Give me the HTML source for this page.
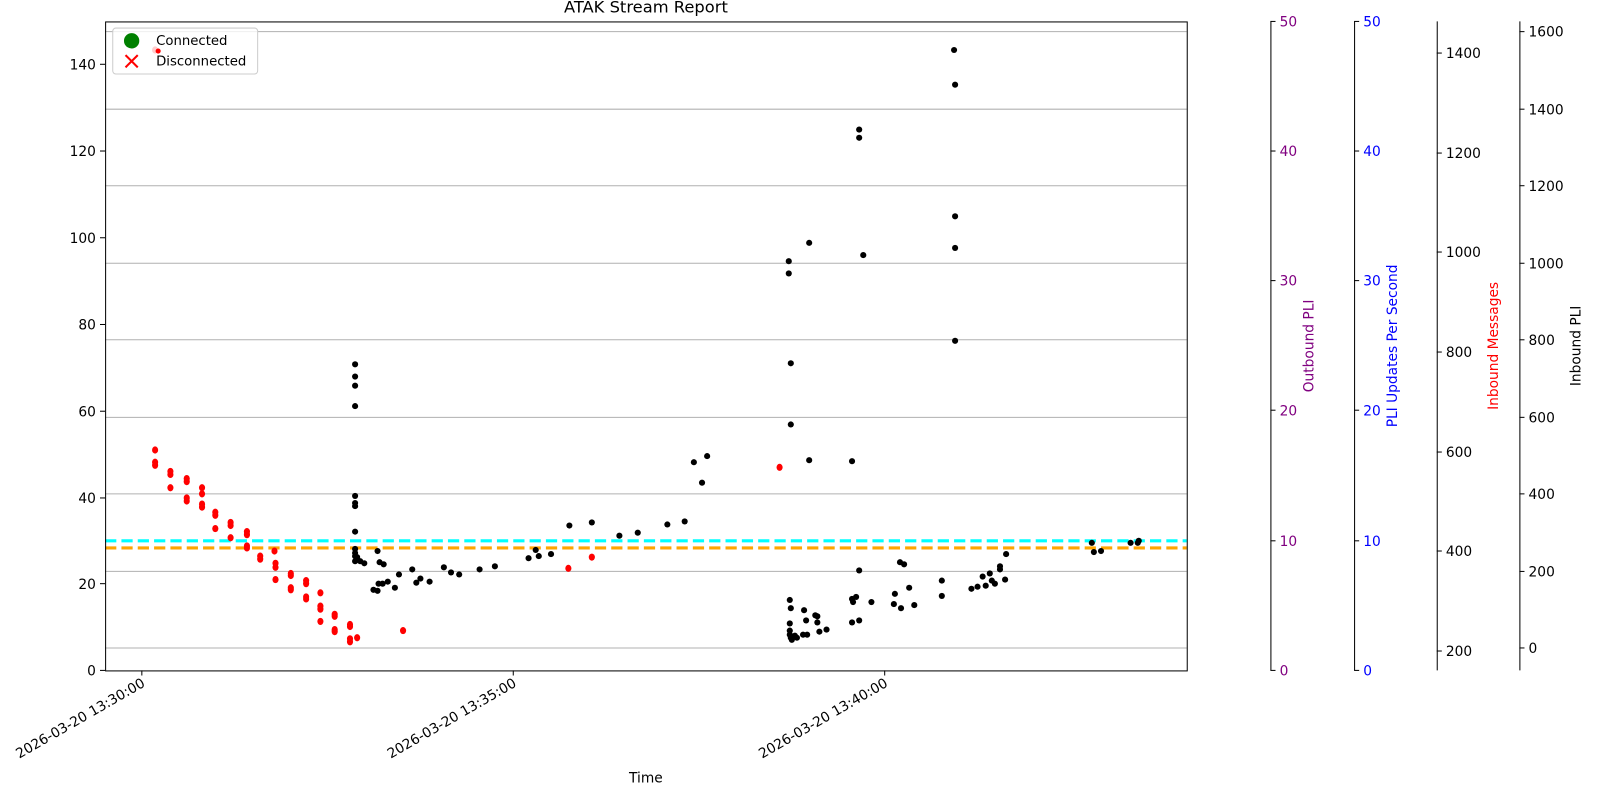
<!DOCTYPE html><html><head><style>html,body{margin:0;padding:0;background:#fff;overflow:hidden;width:1600px;height:800px}svg{display:block;font-family:"DejaVu Sans","Liberation Sans",sans-serif;font-size:13.5px}</style></head><body>
<svg width="1600" height="800" viewBox="0 0 1600 800" xmlns="http://www.w3.org/2000/svg">
<g transform="scale(1.0204)">
<text x="633" y="12" text-anchor="middle" font-size="16">ATAK Stream Report</text>
<g stroke="#b0b0b0" stroke-width="1">
<line x1="103" x2="1163" y1="31" y2="31"/><line x1="103" x2="1163" y1="107" y2="107"/><line x1="103" x2="1163" y1="182" y2="182"/><line x1="103" x2="1163" y1="258" y2="258"/><line x1="103" x2="1163" y1="333" y2="333"/><line x1="103" x2="1163" y1="409" y2="409"/><line x1="103" x2="1163" y1="484" y2="484"/><line x1="103" x2="1163" y1="560" y2="560"/><line x1="103" x2="1163" y1="635" y2="635"/>
</g>
<line x1="103" x2="1163" y1="530" y2="530" stroke="cyan" stroke-width="3" stroke-dasharray="11,5"/>
<line x1="103" x2="1163" y1="537" y2="537" stroke="orange" stroke-width="3" stroke-dasharray="11,5"/>
<g fill="red" id="red"></g>
<g fill="#000" id="blk"></g>
<rect x="103.5" y="21.5" width="1060" height="636" fill="none" stroke="#000"/>
<g text-anchor="end">
<text x="94" y="662">0</text><text x="94" y="577">20</text><text x="94" y="493">40</text><text x="94" y="408">60</text><text x="94" y="323">80</text><text x="94" y="238">100</text><text x="94" y="153">120</text><text x="94" y="68">140</text>
</g>
<g stroke="#000"><line x1="98" x2="103" y1="657" y2="657"/><line x1="98" x2="103" y1="572" y2="572"/><line x1="98" x2="103" y1="488" y2="488"/><line x1="98" x2="103" y1="403" y2="403"/><line x1="98" x2="103" y1="318" y2="318"/><line x1="98" x2="103" y1="233" y2="233"/><line x1="98" x2="103" y1="148" y2="148"/><line x1="98" x2="103" y1="63" y2="63"/>
<line x1="139" x2="139" y1="657" y2="662"/><line x1="503" x2="503" y1="657" y2="662"/><line x1="867" x2="867" y1="657" y2="662"/></g>
<g text-anchor="end">
<text transform="translate(143,672) rotate(-30)">2026-03-20 13:30:00</text>
<text transform="translate(507,672) rotate(-30)">2026-03-20 13:35:00</text>
<text transform="translate(871,672) rotate(-30)">2026-03-20 13:40:00</text>
</g>
<text x="633" y="767" text-anchor="middle">Time</text>
<g stroke="#000"><line x1="1245.5" x2="1245.5" y1="21" y2="657"/><line x1="1327.5" x2="1327.5" y1="21" y2="657"/><line x1="1408.5" x2="1408.5" y1="21" y2="657"/><line x1="1489.5" x2="1489.5" y1="21" y2="657"/></g>
<g id="ax1"></g><g id="ax2"></g><g id="ax3"></g><g id="ax4"></g>
<text transform="translate(1287,339) rotate(-90)" text-anchor="middle" fill="purple">Outbound PLI</text>
<text transform="translate(1369,339) rotate(-90)" text-anchor="middle" fill="blue">PLI Updates Per Second</text>
<text transform="translate(1468,339) rotate(-90)" text-anchor="middle" fill="red">Inbound Messages</text>
<text transform="translate(1549,339) rotate(-90)" text-anchor="middle">Inbound PLI</text>
<rect x="110.5" y="27.5" width="142" height="45" rx="3" fill="#fff" fill-opacity="0.8" stroke="#ccc"/>
<circle cx="129" cy="40" r="7.5" fill="green"/>
<path d="M123,54 L135,66 M135,54 L123,66" stroke="red" stroke-width="2"/>
<circle cx="155" cy="50" r="2.5" fill="red"/>
<text x="153" y="44" font-size="13">Connected</text><text x="153" y="64" font-size="13">Disconnected</text>
</g>
<script>
var NS="http://www.w3.org/2000/svg";
function el(p,t,a,txt){var e=document.createElementNS(NS,t);for(var k in a)e.setAttribute(k,a[k]);if(txt!==undefined)e.textContent=String(txt);p.appendChild(e);}
var R=[[152,441],[152,453],[152,456],[167,462],[167,465],[167,478],[183,469],[183,472],[183,488],[183,491],[198,478],[198,484],[198,494],[198,497],[211,502],[211,505],[211,518],[226,512],[226,515],[226,527],[242,521],[242,524],[242,535],[242,537],[255,545],[255,548],[269,540],[270,552],[270,556],[270,568],[285,562],[285,564],[285,576],[285,578],[300,569],[300,572],[300,585],[300,587],[314,581],[314,594],[314,597],[314,609],[328,602],[328,604],[328,617],[328,619],[343,612],[343,614],[343,626],[343,629],[350,625],[395,618],[557,557],[580,546],[764,458]];
var B=[[348,357],[348,369],[348,378],[348,398],[348,486],[348,493],[348,496],[348,521],[348,538],[348,542],[348,545],[348,550],[350,546],[353,550],[357,552],[366,578],[370,579],[370,540],[372,551],[376,553],[371,572],[375,572],[380,570],[387,576],[391,563],[404,558],[408,571],[412,567],[421,570],[435,556],[442,561],[450,563],[470,558],[485,555],[518,547],[525,539],[528,545],[540,543],[558,515],[580,512],[607,525],[625,522],[654,514],[671,511],[680,453],[688,473],[693,447],
[842,127],[842,135],[793,238],[773,256],[773,268],[846,250],[936,212],[936,243],[936,334],[775,356],[775,416],[793,451],[835,452],[842,559],[882,551],[886,553],[774,588],[775,596],[774,611],[774,618],[774,622],[775,625],[779,623],[781,625],[776,627],[788,598],[790,608],[787,622],[791,622],[799,603],[801,604],[801,610],[803,619],[810,617],[835,587],[839,585],[836,590],[835,610],[842,608],[854,590],[877,582],[891,576],[876,592],[883,596],[896,593],[923,569],[923,584],[952,577],[958,575],[963,565],[970,562],[966,574],[972,569],[975,572],[980,555],[980,558],[985,568],[986,543],
[935,49],[936,83],[1070,532],[1072,541],[1079,540],[1108,532],[1115,532],[1116,530]];
var gr=document.getElementById("red"),gb=document.getElementById("blk");
R.forEach(function(p){el(gr,"ellipse",{cx:p[0],cy:p[1],rx:3,ry:3.5});});
el(gr,"ellipse",{cx:152,cy:49,rx:3,ry:3.5});
B.forEach(function(p){el(gb,"circle",{cx:p[0],cy:p[1],r:3});});
function ax(id,x,ticks,col){var g=document.getElementById(id);ticks.forEach(function(t){el(g,"line",{x1:x,x2:x+5,y1:t[1],y2:t[1],stroke:"#000"});el(g,"text",{x:x+9,y:t[1]+5,fill:col},t[0]);});}
var p=[[0,657],[10,530],[20,402],[30,275],[40,148],[50,21]];
ax("ax1",1245,p,"purple");ax("ax2",1327,p,"blue");
ax("ax3",1408,[[200,638],[400,540],[600,443],[800,345],[1000,247],[1200,150],[1400,52]],"#000");
ax("ax4",1489,[[0,635],[200,560],[400,484],[600,409],[800,333],[1000,258],[1200,182],[1400,107],[1600,31]],"#000");
</script>
</svg></body></html>
